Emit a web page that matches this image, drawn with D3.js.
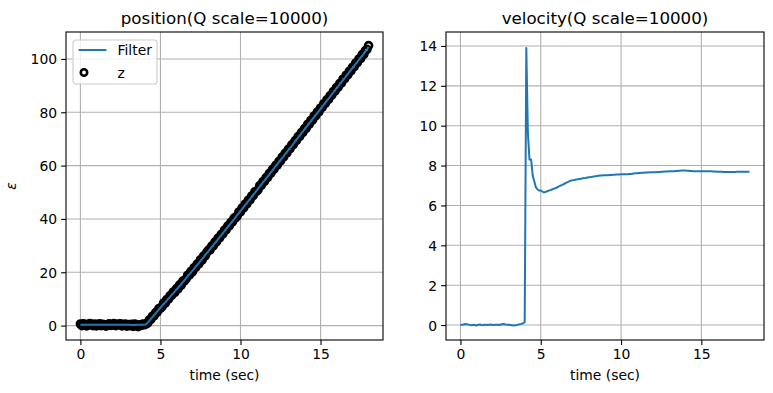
<!DOCTYPE html>
<html>
<head>
<meta charset="utf-8">
<script src="https://cdn.jsdelivr.net/npm/d3@7"></script>
<style>
    body { margin: 0; background: #fff; }
    text { font-family: "DejaVu Sans", sans-serif; fill: #000; }
</style>
</head>
<body>
<div id="chart"></div>
<script>
// sample times, 0.1 s apart
const timeSec = d3.range(0, 181).map(i => +(i * 0.1).toFixed(1));

// measured position z
const zMeas = [
    0.6, 0.0, 0.7, 0.1, -0.1, 0.5, 0.8, 0.2, 0.0, 0.6, -0.1, 0.4, 0.7, 0.0, 0.5, 0.2, -0.2, 0.4, 0.7, 0.1,
    0.3, 0.8, 0.0, 0.2, 0.6, 0.7, -0.1, 0.3, 0.6, -0.2, 0.4, 0.0, 0.5, -0.3, 0.6, 0.1, -0.4, 0.3, 0.1, 0.6, 0.3,
    0.7, 0.9, 2.1, 2.3, 3.5, 3.7, 4.9, 5.1, 6.4, 6.5,
    7.1, 8.5, 8.4, 9.8, 9.9, 11.2, 11.3, 12.6, 12.5, 13.9,
    13.8, 15.3, 15.2, 16.7, 16.8, 17.5, 18.9, 18.9, 20.3, 20.2,
    21.7, 21.8, 23.1, 23.2, 24.7, 24.6, 26.1, 26.2, 27.5, 28.3,
    28.4, 29.8, 29.9, 31.3, 31.4, 32.8, 32.9, 34.2, 34.4, 35.8,
    35.9, 37.3, 37.4, 38.7, 38.9, 40.3, 40.4, 41.2, 42.6, 42.7,
    44.1, 44.2, 45.6, 45.7, 47.1, 47.2, 48.6, 48.8, 50.2, 50.3,
    51.0, 52.5, 52.6, 54.0, 54.1, 55.5, 55.6, 57.1, 57.2, 58.6,
    58.7, 60.1, 60.2, 61.6, 61.8, 63.2, 63.3, 64.7, 64.8, 66.2,
    66.4, 67.8, 67.9, 69.3, 69.5, 70.9, 71.0, 72.4, 72.5, 73.9,
    74.0, 75.5, 75.6, 77.0, 77.1, 78.6, 78.7, 80.1, 80.2, 81.6,
    81.8, 83.2, 83.3, 84.7, 84.8, 86.2, 86.4, 87.8, 87.9, 89.3,
    89.4, 90.8, 90.9, 92.4, 92.5, 93.9, 94.0, 95.4, 95.5, 96.9,
    97.1, 98.5, 98.6, 100.0, 100.1, 101.6, 101.7, 103.1, 103.6, 105.0
];

// filtered position
const filterPos = [
    0.3, 0.28, 0.3, 0.31, 0.29, 0.3, 0.32, 0.3, 0.29, 0.3, 0.31, 0.3, 0.3, 0.29, 0.3, 0.31, 0.3, 0.29, 0.3, 0.31,
    0.3, 0.3, 0.31, 0.3, 0.29, 0.3, 0.3, 0.31, 0.3, 0.29, 0.28, 0.28, 0.27, 0.27, 0.27, 0.28, 0.29, 0.3, 0.31, 0.33, 0.36,
    0.5, 1.1, 1.8, 2.5, 3.2, 3.9, 4.6, 5.3, 6.0, 6.7,
    7.4, 8.1, 8.7, 9.4, 10.1, 10.8, 11.5, 12.1, 12.8, 13.5,
    14.2, 14.9, 15.6, 16.3, 17.0, 17.8, 18.5, 19.2, 19.9, 20.6,
    21.3, 22.1, 22.8, 23.5, 24.3, 25.0, 25.7, 26.5, 27.2, 27.9,
    28.7, 29.4, 30.2, 30.9, 31.7, 32.4, 33.2, 33.9, 34.7, 35.4,
    36.2, 36.9, 37.7, 38.4, 39.2, 39.9, 40.7, 41.5, 42.2, 43.0,
    43.7, 44.5, 45.3, 46.0, 46.8, 47.5, 48.3, 49.1, 49.8, 50.6,
    51.4, 52.1, 52.9, 53.7, 54.4, 55.2, 55.9, 56.7, 57.5, 58.2,
    59.0, 59.8, 60.5, 61.3, 62.1, 62.8, 63.6, 64.4, 65.1, 65.9,
    66.7, 67.4, 68.2, 69.0, 69.8, 70.5, 71.3, 72.1, 72.8, 73.6,
    74.4, 75.1, 75.9, 76.7, 77.5, 78.2, 79.0, 79.8, 80.5, 81.3,
    82.1, 82.8, 83.6, 84.4, 85.1, 85.9, 86.7, 87.4, 88.2, 89.0,
    89.7, 90.5, 91.3, 92.0, 92.8, 93.6, 94.3, 95.1, 95.9, 96.6,
    97.4, 98.2, 98.9, 99.7, 100.5, 101.2, 102.0, 102.8, 103.6, 104.5
];

// filtered velocity
const filterVel = [
    0.0, 0.01, 0.03, 0.05, 0.04, 0.02, 0.0, -0.01, 0.01, 0.0, -0.02, 0.01, 0.03, 0.0, -0.01, 0.02, 0.01, 0.0, 0.02, 0.03,
    0.01, 0.0, 0.02, 0.01, 0.0, 0.03, 0.04, 0.05, 0.03, 0.02, 0.01, 0.0, -0.01, -0.02, -0.01, 0.0, 0.02, 0.04, 0.06, 0.09, 0.14,
    13.9, 9.6, 8.3, 8.3, 7.5, 7.2, 6.9, 6.8, 6.75, 6.75, 6.7, 6.65,
    6.68, 6.71, 6.74, 6.77, 6.80, 6.83, 6.86, 6.90, 6.94, 6.98, 7.02, 7.06, 7.10, 7.14, 7.18, 7.22,
    7.25, 7.27, 7.28, 7.30, 7.31, 7.33, 7.34, 7.36, 7.37, 7.38, 7.40, 7.41, 7.42, 7.44, 7.45, 7.46, 7.48, 7.49, 7.50,
    7.50, 7.51, 7.51, 7.52, 7.52, 7.53, 7.53, 7.54, 7.54, 7.55, 7.55, 7.55, 7.56, 7.56, 7.57, 7.57, 7.57, 7.58,
    7.58, 7.59, 7.60, 7.61, 7.62, 7.63, 7.63, 7.64, 7.64, 7.65, 7.65, 7.65, 7.66, 7.66, 7.67, 7.67, 7.67, 7.68, 7.68, 7.69,
    7.69, 7.70, 7.70, 7.70, 7.71,
    7.71, 7.72, 7.72, 7.73, 7.73, 7.74, 7.74, 7.75, 7.75, 7.75, 7.74, 7.74, 7.73, 7.73, 7.72, 7.72, 7.71, 7.71, 7.71, 7.71,
    7.71, 7.72, 7.72, 7.72, 7.71, 7.71, 7.70, 7.70, 7.70, 7.69, 7.69, 7.69, 7.69, 7.68, 7.68, 7.68, 7.68, 7.68, 7.68, 7.68,
    7.68, 7.69, 7.69, 7.69, 7.69, 7.69, 7.69, 7.69, 7.69, 7.69
];

const xTicks = [0, 5, 10, 15];
const posTicks = [0, 20, 40, 60, 80, 100];
const velTicks = [0, 2, 4, 6, 8, 10, 12, 14];

const blue = "#1f77b4";
const W = 773, H = 393;

let svg = d3.select("#chart").append("svg")
    .attr("width", W)
    .attr("height", H);

// draws the frame, grid, ticks and labels of one panel, returns scales + layer
function makePanel(box, xDomain, yDomain, yTicks, title) {
    let x = d3.scaleLinear().domain(xDomain).range([box.left, box.right]);
    let y = d3.scaleLinear().domain(yDomain).range([box.bottom, box.top]);

    let g = svg.append("g");

    // grid
    g.append("g").selectAll("line").data(xTicks).enter().append("line")
        .attr("x1", d => x(d)).attr("x2", d => x(d))
        .attr("y1", box.top).attr("y2", box.bottom)
        .attr("stroke", "#b0b0b0").attr("stroke-width", 1.1);
    g.append("g").selectAll("line").data(yTicks).enter().append("line")
        .attr("y1", d => y(d)).attr("y2", d => y(d))
        .attr("x1", box.left).attr("x2", box.right)
        .attr("stroke", "#b0b0b0").attr("stroke-width", 1.1);

    let layer = g.append("g");

    // axes
    let xAxis = d3.axisBottom(x).tickValues(xTicks).tickSize(4.9).tickPadding(4).tickFormat(d3.format("d"));
    let yAxis = d3.axisLeft(y).tickValues(yTicks).tickSize(4.9).tickPadding(4).tickFormat(d3.format("d"));

    let xg = g.append("g").attr("transform", `translate(0, ${box.bottom})`).call(xAxis);
    let yg = g.append("g").attr("transform", `translate(${box.left}, 0)`).call(yAxis);
    [xg, yg].forEach(a => {
        a.select(".domain").remove();
        a.selectAll(".tick line").attr("stroke", "#000").attr("stroke-width", 1.1);
        a.selectAll(".tick text").style("font-size", "13.9px").attr("fill", "#000");
    });
    xg.selectAll(".tick text").attr("dy", "0.76em");
    yg.selectAll(".tick text").attr("dy", "0.36em");

    // frame
    g.append("rect")
        .attr("x", box.left).attr("y", box.top)
        .attr("width", box.right - box.left).attr("height", box.bottom - box.top)
        .attr("fill", "none").attr("stroke", "#000").attr("stroke-width", 1.1);

    g.append("text")
        .attr("x", (box.left + box.right) / 2).attr("y", 23.5)
        .attr("text-anchor", "middle")
        .style("font-size", "16.7px")
        .text(title);

    g.append("text")
        .attr("x", (box.left + box.right) / 2).attr("y", 380)
        .attr("text-anchor", "middle")
        .style("font-size", "13.9px")
        .text("time (sec)");

    return {x, y, layer};
}

const leftBox = {left: 66, right: 383, top: 32, bottom: 340};
const rightBox = {left: 446, right: 764, top: 32, bottom: 340};

// position panel
let pos = makePanel(leftBox, [-0.9, 18.9], [-5.4, 110.1], posTicks, "position(Q scale=10000)");

pos.layer.append("g").selectAll("circle")
    .data(timeSec)
    .enter()
    .append("circle")
    .attr("cx", (d, i) => pos.x(d))
    .attr("cy", (d, i) => pos.y(zMeas[i]))
    .attr("r", 3.5)
    .attr("fill", "none")
    .attr("stroke", "#000")
    .attr("stroke-width", 2.6);

pos.layer.append("path")
    .datum(timeSec)
    .attr("d", d3.line().x(d => pos.x(d)).y((d, i) => pos.y(filterPos[i])))
    .attr("fill", "none")
    .attr("stroke", blue)
    .attr("stroke-width", 2)
    .attr("stroke-linejoin", "round");

svg.append("text")
    .attr("transform", `translate(16, ${(leftBox.top + leftBox.bottom) / 2}) rotate(-90)`)
    .attr("text-anchor", "middle")
    .style("font-size", "13.9px")
    .style("font-style", "italic")
    .text("ε");

// legend
let legend = svg.append("g").attr("transform", "translate(73, 40)");
legend.append("rect")
    .attr("width", 84).attr("height", 44)
    .attr("rx", 2.8)
    .attr("fill", "#fff").attr("fill-opacity", 0.8)
    .attr("stroke", "#cccccc").attr("stroke-width", 1.1);
legend.append("line")
    .attr("x1", 5.6).attr("x2", 33.4).attr("y1", 10).attr("y2", 10)
    .attr("stroke", blue).attr("stroke-width", 2);
legend.append("text").attr("x", 44.5).attr("y", 15).style("font-size", "13.9px").text("Filter");
legend.append("circle")
    .attr("cx", 11).attr("cy", 32.5).attr("r", 3.2)
    .attr("fill", "none").attr("stroke", "#000").attr("stroke-width", 2.6);
legend.append("text").attr("x", 44.5).attr("y", 37.5).style("font-size", "13.9px").text("z");

// velocity panel
let vel = makePanel(rightBox, [-0.9, 18.9], [-0.75, 14.7], velTicks, "velocity(Q scale=10000)");

vel.layer.append("path")
    .datum(timeSec)
    .attr("d", d3.line().x(d => vel.x(d)).y((d, i) => vel.y(filterVel[i])))
    .attr("fill", "none")
    .attr("stroke", blue)
    .attr("stroke-width", 2)
    .attr("stroke-linejoin", "round");
</script>
</body>
</html>
